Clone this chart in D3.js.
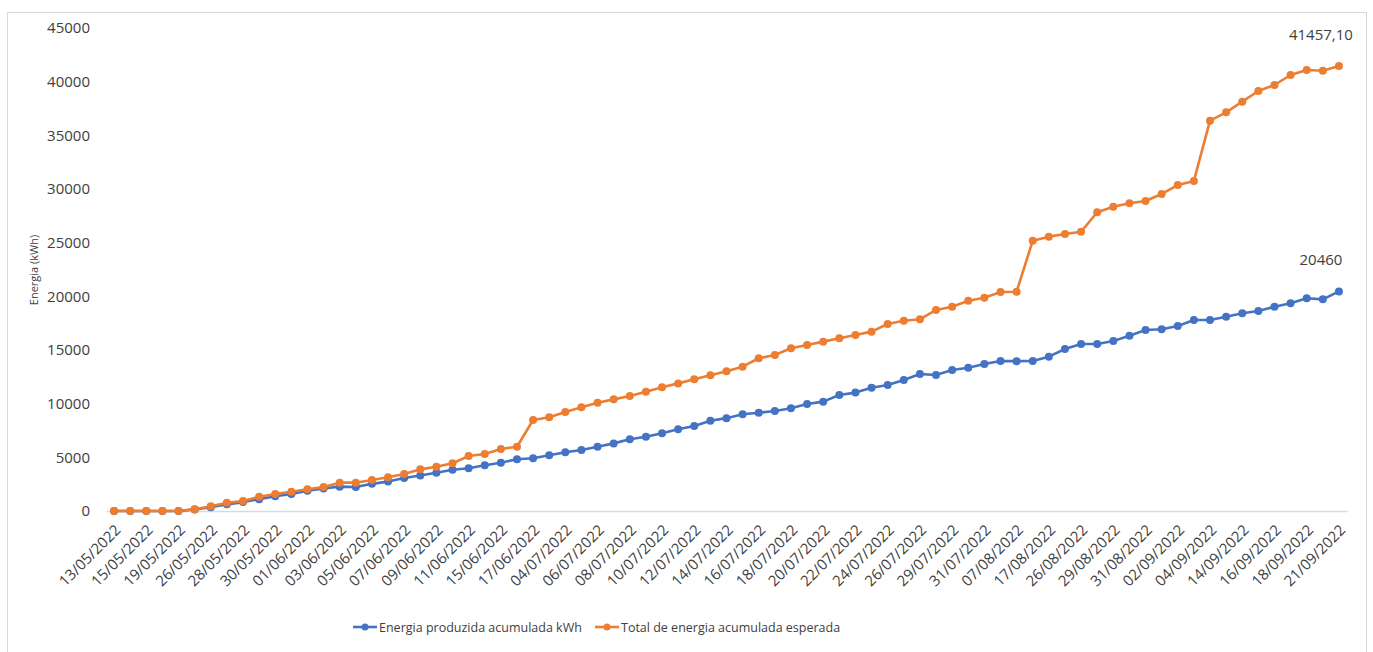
<!DOCTYPE html>
<html>
<head>
<meta charset="utf-8">
<script src="https://cdn.jsdelivr.net/npm/d3@7"></script>
<style>
  html, body { margin: 0; padding: 0; background: #ffffff; }
  svg { display: block; font-family: "Open Sans", "Liberation Sans", sans-serif; }
</style>
</head>
<body>
<svg id="chart" width="1373" height="652"></svg>
<script>
// Daily readings (dd/mm/yyyy)
const dates = [
  "13/05/2022","14/05/2022","15/05/2022","16/05/2022","19/05/2022","25/05/2022","26/05/2022","27/05/2022",
  "28/05/2022","29/05/2022","30/05/2022","31/05/2022","01/06/2022","02/06/2022","03/06/2022","04/06/2022",
  "05/06/2022","06/06/2022","07/06/2022","08/06/2022","09/06/2022","10/06/2022","11/06/2022","14/06/2022",
  "15/06/2022","16/06/2022","17/06/2022","03/07/2022","04/07/2022","05/07/2022","06/07/2022","07/07/2022",
  "08/07/2022","09/07/2022","10/07/2022","11/07/2022","12/07/2022","13/07/2022","14/07/2022","15/07/2022",
  "16/07/2022","17/07/2022","18/07/2022","19/07/2022","20/07/2022","21/07/2022","22/07/2022","23/07/2022",
  "24/07/2022","25/07/2022","26/07/2022","28/07/2022","29/07/2022","30/07/2022","31/07/2022","01/08/2022",
  "07/08/2022","16/08/2022","17/08/2022","25/08/2022","26/08/2022","28/08/2022","29/08/2022","30/08/2022",
  "31/08/2022","01/09/2022","02/09/2022","03/09/2022","04/09/2022","13/09/2022","14/09/2022","15/09/2022",
  "16/09/2022","17/09/2022","18/09/2022","20/09/2022","21/09/2022"
];

// Accumulated energy produced (kWh)
const produzida = [
  0, 0, 0, 0, 0, 150, 350, 620, 830, 1100, 1380, 1580, 1880, 2100, 2270, 2230,
  2530, 2740, 3080, 3300, 3570, 3840, 3980, 4260, 4500, 4820, 4910, 5190, 5470, 5680, 5990, 6300,
  6680, 6920, 7240, 7610, 7920, 8400, 8650, 9010, 9160, 9320, 9570, 9970, 10190, 10810, 11030, 11490,
  11740, 12210, 12760, 12670, 13140, 13350, 13700, 13980, 13960, 13980, 14380, 15090, 15560, 15560, 15840, 16330,
  16860, 16930, 17240, 17800, 17800, 18100, 18420, 18630, 19030, 19350, 19820, 19720, 20460
];

// Expected accumulated energy (kWh)
const esperada = [
  0, 0, 0, 0, 0, 160, 450, 760, 930, 1330, 1580, 1800, 2020, 2230, 2640, 2640,
  2890, 3150, 3450, 3880, 4130, 4440, 5120, 5310, 5780, 5990, 8480, 8730, 9220, 9660, 10090, 10400,
  10710, 11120, 11520, 11890, 12270, 12650, 13020, 13450, 14230, 14530, 15160, 15470, 15780, 16090, 16400, 16710,
  17420, 17730, 17860, 18730, 19030, 19590, 19870, 20400, 20430, 25180, 25560, 25810, 26020, 27830, 28350, 28670,
  28880, 29540, 30370, 30750, 36370, 37140, 38140, 39130, 39690, 40620, 41090, 41020, 41457.10
];

const yTicks = [0, 5000, 10000, 15000, 20000, 25000, 30000, 35000, 40000, 45000];

const seriesNames = ["Energia produzida acumulada kWh", "Total de energia acumulada esperada"];
const seriesColors = ["#4472C4", "#ED7D31"];
const endLabels = ["20460", "41457,10"];

const svg = d3.select("#chart");

// chart frame
svg.append("rect")
  .attr("x", 7.5).attr("y", 12.5)
  .attr("width", 1359).attr("height", 660)
  .attr("fill", "#ffffff")
  .attr("stroke", "#d9d9d9").attr("stroke-width", 1);

const x = d3.scalePoint().domain(dates).range([106, 1347]).padding(0.5);
const y = d3.scaleLinear().domain([0, 45000]).range([511, 28]);

// y axis tick labels only
const yAxis = d3.axisLeft(y).tickValues(yTicks).tickSize(0).tickPadding(0).tickFormat(d3.format("d"));
const gy = svg.append("g").attr("transform", "translate(90,0)").call(yAxis);
gy.select(".domain").remove();
gy.selectAll("text")
  .attr("font-size", 15).attr("fill", "#404040")
  .attr("font-family", "'Open Sans', sans-serif");

// x axis
const xAxis = d3.axisBottom(x)
  .tickValues(dates.filter((d, i) => i % 2 === 0))
  .tickSize(0).tickPadding(0);
const gx = svg.append("g").attr("transform", "translate(0,511)").call(xAxis);
gx.select(".domain").attr("stroke", "#d9d9d9").attr("stroke-width", 1.5);
gx.selectAll("text")
  .attr("font-size", 15).attr("fill", "#404040")
  .attr("font-family", "'Open Sans', sans-serif")
  .attr("text-anchor", "end")
  .attr("dy", null)
  .attr("y", 0)
  .attr("transform", "translate(7,20) rotate(-45)");

// y axis title
svg.append("text")
  .attr("transform", "translate(38,270) rotate(-90)")
  .attr("text-anchor", "middle")
  .attr("font-size", 11).attr("fill", "#404040")
  .text("Energia (kWh)");

// series
const allSeries = [produzida, esperada];
const line = d3.line().x((d, i) => x(dates[i])).y(d => y(d));

allSeries.forEach((vals, s) => {
  svg.append("path")
    .datum(vals)
    .attr("fill", "none")
    .attr("stroke", seriesColors[s])
    .attr("stroke-width", 2.6)
    .attr("stroke-linejoin", "round")
    .attr("d", line);
  svg.append("g").selectAll("circle")
    .data(vals)
    .join("circle")
    .attr("cx", (d, i) => x(dates[i]))
    .attr("cy", d => y(d))
    .attr("r", 4)
    .attr("fill", seriesColors[s]);
  const last = vals.length - 1;
  svg.append("text")
    .attr("x", x(dates[last]) - 18)
    .attr("y", y(vals[last]) - 26)
    .attr("text-anchor", "middle")
    .attr("font-size", 15).attr("fill", "#404040")
    .text(endLabels[s]);
});

// legend
const legendItems = [{x: 353}, {x: 595}];
legendItems.forEach((it, s) => {
  const g = svg.append("g").attr("transform", `translate(${it.x},627)`);
  g.append("line").attr("x1", 0).attr("x2", 24).attr("y1", 0).attr("y2", 0)
    .attr("stroke", seriesColors[s]).attr("stroke-width", 2.6);
  g.append("circle").attr("cx", 12).attr("cy", 0).attr("r", 3.5).attr("fill", seriesColors[s]);
  g.append("text").attr("x", 26).attr("y", 5)
    .attr("font-size", 12.5).attr("fill", "#404040")
    .text(seriesNames[s]);
});
</script>
</body>
</html>
